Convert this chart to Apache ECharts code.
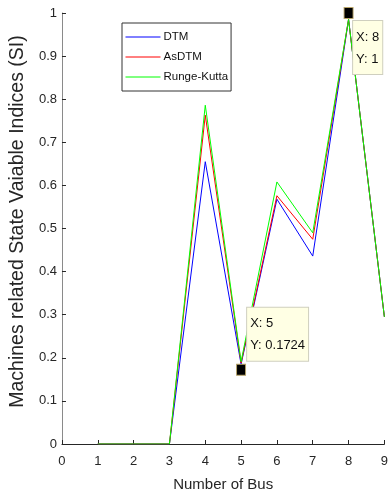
<!DOCTYPE html>
<html>
<head>
<meta charset="utf-8">
<script src="https://cdn.jsdelivr.net/npm/echarts@6/dist/echarts.min.js"></script>
<style>
html,body{margin:0;padding:0;background:#fff;}
#chart{width:391px;height:499px;}
</style>
</head>
<body>
<div id="chart"></div>
<script>
// bus numbers and state indices per method
var busNo = [1, 2, 3, 4, 5, 6, 7, 8, 9];
var dtmVals = [0, 0, 0, 0.655, 0.185, 0.568, 0.436, 0.985, 0.295];
var asdtmVals = [0, 0, 0, 0.763, 0.188, 0.576, 0.475, 0.985, 0.295];
var rkVals = [0, 0, 0, 0.786, 0.191, 0.608, 0.49, 0.985, 0.295];
var seriesNames = ['DTM', 'AsDTM', 'Runge-Kutta'];
var seriesColors = ['#0000ff', '#ff0000', '#00ff00'];
// data tips shown on the figure
var tipPoints = [[5, 0.1724], [8, 1]];

var font = '"Liberation Sans", Arial, sans-serif';
var textColor = '#262626';

function pairs(xs, ys){
	var out = [];
	for(var i=0;i<xs.length;i++){
		out.push([xs[i], ys[i]]);
	}
	return out;
}

var allVals = [dtmVals, asdtmVals, rkVals];
var series = [];
for(var k=0;k<seriesNames.length;k++){
	series.push({
		name: seriesNames[k],
		type: 'line',
		data: pairs(busNo, allVals[k]),
		symbol: 'none',
		lineStyle: {color: seriesColors[k], width: 1},
		itemStyle: {color: seriesColors[k]},
		z: 2 + k
	});
}

var tipOffsets = [[11, -56], [9.5, 14]];
series.push({
	name: 'tips',
	type: 'scatter',
	symbol: 'rect',
	symbolSize: [9, 11],
	z: 10,
	itemStyle: {color: '#000', borderColor: '#b8a46a', borderWidth: 1, opacity: 1},
	data: tipPoints.map(function(p, i){
		return {
			value: p,
			label: {
				show: true,
				position: tipOffsets[i],
				align: 'left',
				verticalAlign: 'top',
				formatter: 'X: ' + p[0] + '\nY: ' + p[1],
				fontFamily: font,
				fontSize: 13,
				lineHeight: 22,
				color: '#111',
				backgroundColor: '#ffffe4',
				borderColor: '#cfcfbf',
				borderWidth: 1,
				padding: [5, 3, 4, 3]
			}
		};
	}),
	emphasis: {disabled: true}
});

var option = {
	animation: false,
	backgroundColor: '#fff',
	grid: {left: 53, right: 2, top: 13, bottom: 55, containLabel: false},
	legend: {
		data: seriesNames,
		orient: 'vertical',
		left: 122,
		top: 23,
		padding: [8, 3, 8, 3],
		itemGap: 8,
		itemWidth: 35,
		itemHeight: 13,
		borderColor: '#333',
		borderWidth: 1,
		backgroundColor: '#fff',
		itemStyle: {opacity: 0},
		lineStyle: {width: 1},
		textStyle: {fontFamily: font, fontSize: 11.5, color: '#111', padding: [0, 0, 0, -2]}
	},
	xAxis: {
		type: 'value',
		min: 0,
		max: 9,
		interval: 1,
		name: 'Number of Bus',
		nameLocation: 'middle',
		nameGap: 33,
		nameTextStyle: {fontFamily: font, fontSize: 15, color: textColor},
		axisLine: {lineStyle: {color: '#262626', width: 1}},
		axisTick: {inside: true, length: 4, lineStyle: {color: '#262626'}},
		axisLabel: {margin: 11, fontFamily: font, fontSize: 13, color: textColor},
		splitLine: {show: false}
	},
	yAxis: {
		type: 'value',
		min: 0,
		max: 1,
		interval: 0.1,
		name: 'Machines related State Vaiable Indices (SI)',
		nameLocation: 'middle',
		nameGap: 29,
		nameTextStyle: {fontFamily: font, fontSize: 19.5, color: textColor, padding: [0, 0, 0, 14]},
		axisLine: {show: true, lineStyle: {color: '#8a8a8a', width: 1}},
		axisTick: {show: true, inside: true, length: 4, lineStyle: {color: '#262626'}},
		axisLabel: {margin: 5, fontFamily: font, fontSize: 13, color: textColor},
		splitLine: {show: false}
	},
	series: series
};

var chart = echarts.init(document.getElementById('chart'), null, {renderer: 'canvas'});
chart.setOption(option);
</script>
</body>
</html>
